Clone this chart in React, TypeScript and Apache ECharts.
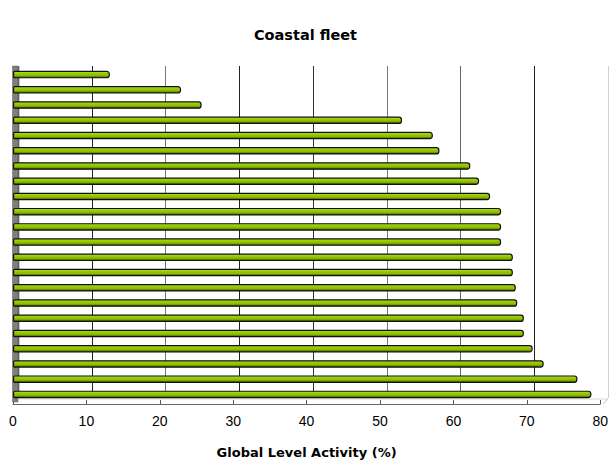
import React, { useEffect, useRef } from "react";
import * as echarts from "echarts";

const titleText = "Coastal fleet";
const axisName = "Global Level Activity (%)";
const categories = [
  "C1", "C2", "C3", "C4", "C5", "C6", "C7", "C8", "C9", "C10", "C11",
  "C12", "C13", "C14", "C15", "C16", "C17", "C18", "C19", "C20", "C21", "C22",
];
const activity = [
  13.2, 22.9, 25.7, 53.0, 57.2, 58.1, 62.3, 63.5, 65.0, 66.5, 66.5,
  66.5, 68.1, 68.1, 68.5, 68.7, 69.6, 69.6, 70.8, 72.3, 76.9, 78.8,
];
const xMin = 0;
const xMax = 80;
const xInterval = 10;

export default function App() {
  const ref = useRef<HTMLDivElement>(null);
  useEffect(() => {
    if (!ref.current) return;
    const chart = echarts.init(ref.current, undefined, { renderer: "svg" });
    const barGradient = new echarts.graphic.LinearGradient(0, 0, 0, 1, [
      { offset: 0, color: "#b8e236" },
      { offset: 0.3, color: "#99cc00" },
      { offset: 0.65, color: "#8abb00" },
      { offset: 1, color: "#3a4f00" },
    ]);
    chart.setOption({
      animation: false,
      backgroundColor: "#ffffff",
      title: {
        text: titleText,
        left: "center",
        top: 22,
        textStyle: {
          fontFamily: "DejaVu Sans",
          fontWeight: "bold",
          fontSize: 14.5,
          color: "#000",
        },
      },
      grid: [
        { left: 13, right: 8, top: 67, height: 335 },
        { left: 18, right: 3, top: 66, height: 332 },
      ],
      xAxis: [
        {
          type: "value",
          gridIndex: 0,
          min: xMin,
          max: xMax,
          interval: xInterval,
          offset: 2,
          axisLine: { show: true, lineStyle: { color: "#666", width: 1 } },
          axisTick: { show: true, inside: true, length: 4, lineStyle: { color: "#555" } },
          axisLabel: {
            color: "#000",
            fontSize: 14,
            fontFamily: "Liberation Sans, Arial, sans-serif",
            margin: 10,
          },
          splitLine: { show: false },
          name: axisName,
          nameLocation: "middle",
          nameGap: 42,
          nameTextStyle: {
            fontFamily: "DejaVu Sans",
            fontWeight: "bold",
            fontSize: 13,
            color: "#000",
          },
        },
        {
          type: "value",
          gridIndex: 1,
          min: xMin,
          max: xMax,
          interval: xInterval,
          axisLine: { show: false },
          axisTick: { show: false },
          axisLabel: { show: false },
          splitLine: {
            show: true,
            lineStyle: {
              width: 1,
              color: ["#666", "#222", "#777", "#222", "#333", "#777", "#666", "#222", "#d0d0d0"],
            },
          },
        },
      ],
      yAxis: [
        {
          type: "category",
          gridIndex: 0,
          data: categories,
          inverse: true,
          axisLine: { show: false },
          axisTick: { show: false },
          axisLabel: { show: false },
          splitLine: { show: false },
        },
        {
          type: "category",
          gridIndex: 1,
          data: categories,
          inverse: true,
          show: false,
        },
      ],
      graphic: [
        {
          type: "rect",
          z: 1,
          shape: { x: 12.5, y: 66, width: 5.5, height: 336 },
          style: { fill: "#7f7f7f", stroke: "#5a5a5a", lineWidth: 0.5 },
        },
        {
          type: "line",
          z: 1,
          shape: { x1: 19.5, y1: 66, x2: 19.5, y2: 399 },
          style: { stroke: "#c8c8c8", lineWidth: 1 },
        },
        {
          type: "line",
          z: 1,
          shape: { x1: 18, y1: 399, x2: 608, y2: 399 },
          style: { stroke: "#d8d8d8", lineWidth: 1 },
        },
        {
          type: "line",
          z: 1,
          shape: { x1: 603, y1: 404, x2: 608, y2: 399 },
          style: { stroke: "#c0c0c0", lineWidth: 1 },
        },
      ],
      series: [
        {
          type: "bar",
          xAxisIndex: 0,
          yAxisIndex: 0,
          data: activity,
          barWidth: 7.5,
          z: 3,
          itemStyle: {
            color: barGradient,
            borderColor: "#111",
            borderWidth: 1.2,
            borderRadius: [1, 2.5, 2.5, 1],
          },
        },
      ],
    });
    return () => chart.dispose();
  }, []);
  return (
    <div
      ref={ref}
      style={{ position: "fixed", left: 0, top: 0, width: 611, height: 466 }}
    />
  );
}
